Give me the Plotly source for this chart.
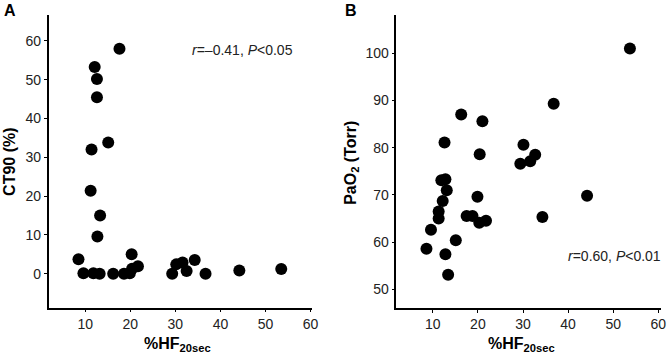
import plotly.graph_objects as go

# Panel A: %HF20sec vs CT90 (%)
a_hf = [17.6, 12.1, 12.6, 12.6, 11.4, 15.1, 11.2, 13.3, 12.7, 8.5, 9.6, 11.8, 13.2,
        16.2, 18.6, 19.9, 20.3, 20.4, 21.7, 29.3, 30.2, 31.6, 32.5, 34.3, 36.7, 44.2, 53.5]
a_ct90 = [58.0, 53.3, 50.2, 45.5, 32.0, 33.8, 21.4, 15.0, 9.6, 3.7, 0.1, 0.1, 0.0,
          0.0, 0.0, 0.1, 5.0, 1.3, 1.9, 0.0, 2.4, 2.9, 0.7, 3.5, 0.0, 0.8, 1.2]

# Panel B: %HF20sec vs PaO2 (Torr)
b_hf = [53.7, 36.8, 16.3, 21.0, 12.6, 20.4, 30.1, 29.4, 31.6, 32.7,
        11.9, 12.8, 13.1, 12.2, 11.3, 11.3, 9.6, 8.6, 12.8, 13.4, 15.1,
        19.9, 17.5, 18.8, 20.3, 21.8, 34.3, 44.2]
b_pao2 = [101.0, 89.3, 87.0, 85.6, 81.1, 78.6, 80.6, 76.6, 77.1, 78.5,
          73.1, 73.3, 71.0, 68.7, 66.5, 65.0, 62.6, 58.6, 57.4, 53.1, 60.4,
          69.6, 65.5, 65.5, 64.1, 64.5, 65.3, 69.8]

x_ticks = [10, 20, 30, 40, 50, 60]
a_y_ticks = [0, 10, 20, 30, 40, 50, 60]
b_y_ticks = [50, 60, 70, 80, 90, 100]

FONT = "Liberation Sans, Arial, sans-serif"
TXT = "#222222"

fig = go.Figure()
marker = dict(color="black", size=12, line=dict(width=0))
fig.add_trace(go.Scatter(x=a_hf, y=a_ct90, mode="markers", marker=marker,
                         xaxis="x", yaxis="y", showlegend=False))
fig.add_trace(go.Scatter(x=b_hf, y=b_pao2, mode="markers", marker=marker,
                         xaxis="x2", yaxis="y2", showlegend=False))

axis_common = dict(showline=True, linecolor="black", linewidth=1.6, ticks="outside",
                   ticklen=3, tickwidth=1.3, tickcolor="black", showgrid=False,
                   zeroline=False, tickfont=dict(family=FONT, size=14, color=TXT))

fig.update_layout(
    width=672, height=355,
    margin=dict(l=0, r=0, t=0, b=0),
    paper_bgcolor="white", plot_bgcolor="white",
    xaxis=dict(domain=[49/672, 315/672], range=[1.86, 60.37], tickvals=x_ticks,
               anchor="y", **axis_common),
    yaxis=dict(domain=[1-307.5/355, 1-15/355], range=[-8.72, 66.7], tickvals=a_y_ticks,
               anchor="x", **axis_common),
    xaxis2=dict(domain=[400/672, 667/672], range=[1.94, 60.6], tickvals=x_ticks,
                anchor="y2", **axis_common),
    yaxis2=dict(domain=[1-307.7/355, 1-15/355], range=[46.1, 108.1], tickvals=b_y_ticks,
                anchor="x2", **axis_common),
)

ann = []
def A(x, y, text, size=14, bold=False, angle=0, xanchor="center", yanchor="middle"):
    ann.append(dict(xref="paper", yref="paper", x=x/672, y=1-y/355, text=text,
                    showarrow=False, textangle=angle, xanchor=xanchor, yanchor=yanchor,
                    font=dict(family=FONT, size=size, color="black" if bold else TXT)))

A(2, 11, "<b>A</b>", size=16, bold=True, xanchor="left")
A(346, 11, "<b>B</b>", size=16, bold=True, xanchor="left")
A(9, 162, "<b>CT90 (%)</b>", size=16, bold=True, angle=-90)
A(354, 163, "<b>PaO<sub>2</sub> (Torr)</b>", size=16, bold=True, angle=-90)
A(179, 344, "<b>%HF<sub>20sec</sub></b>", size=16, bold=True)
A(526, 344, "<b>%HF<sub>20sec</sub></b>", size=16, bold=True)
A(192, 50, "<i>r</i>=–0.41, <i>P</i>&lt;0.05", size=14, xanchor="left")
A(571, 256, "<i>r</i>=0.60, <i>P</i>&lt;0.01", size=14, xanchor="left")
fig.update_layout(annotations=ann)

fig.write_html("out.html", config={"displayModeBar": False},
               post_script="document.body.style.margin='0';document.body.style.overflow='hidden';")
